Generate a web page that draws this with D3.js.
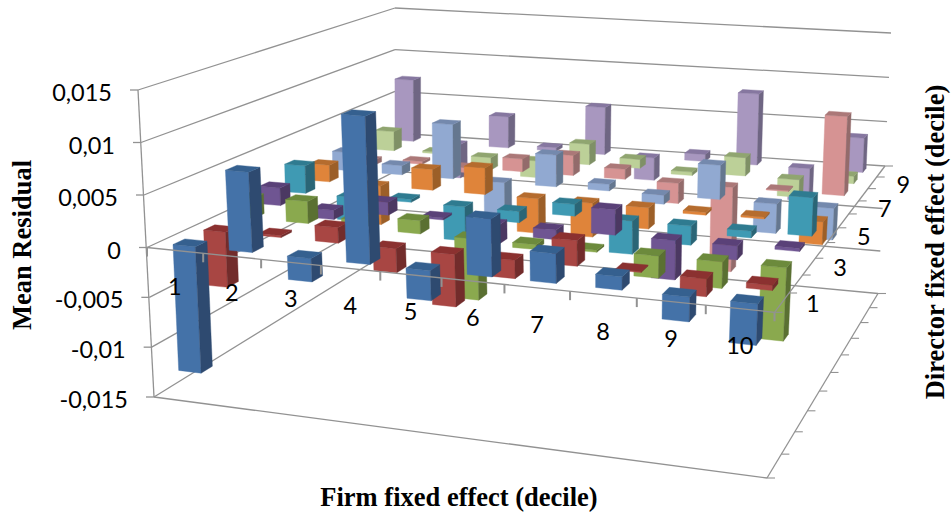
<!DOCTYPE html>
<html><head><meta charset="utf-8">
<script src="https://cdn.jsdelivr.net/npm/d3@7"></script>
<style>html,body{margin:0;padding:0;background:#fff;overflow:hidden}svg{display:block}</style>
</head><body><svg id="c" width="951" height="515" viewBox="0 0 951 515"></svg>
<script>
const firms=[1,2,3,4,5,6,7,8,9,10];
const directors=[1,2,3,4,5,6,7,8,9,10];
const directorLabels=[1,3,5,7,9];
const valueTicks=[0.015,0.01,0.005,0,-0.005,-0.01,-0.015];
const valueLabels=["0,015","0,01","0,005","0","-0,005","-0,01","-0,015"];
const director1=[-0.0127,0.0076,-0.0023,0.0138,-0.0029,0.0053,0.0027,0.0012,-0.0023,-0.0038];
const director2=[-0.0057,0.0002,0.0015,-0.0024,-0.0052,-0.0018,0.0024,0.0001,-0.0017,-0.0005];
const director3=[0.002,0.0022,0.0008,0.0013,-0.0062,-0.0005,-0.0002,-0.0022,-0.0026,-0.0071];
const director4=[0.0018,-0.001,0.0013,0.0002,-0.002,-0.001,0.0025,-0.004,-0.0014,0.0003];
const director5=[0.0029,-0.0026,0.0003,-0.0037,-0.0012,0.0012,-0.0035,-0.002,-0.0007,0.0038];
const director6=[0.0018,-0.0044,0.0022,0.0028,-0.0038,-0.0037,-0.0023,-0.0003,-0.0002,-0.0024];
const director7=[0.002,0.001,0.0059,-0.0035,0.0034,0.0007,-0.001,0.0036,-0.0032,-0.0034];
const director8=[-0.0006,0.0003,-0.0006,0.0014,0.0022,0.0011,-0.0023,-0.0095,0.0001,0.0084];
const director9=[0.0022,0.0002,-0.0015,-0.002,0.0023,0.001,-0.0004,0.002,-0.002,0.0008];
const director10=[0.0072,-0.0042,0.0036,0.0004,0.0054,-0.0027,0.0008,0.008,-0.0038,0.0038];
const seriesValues=[director1,director2,director3,director4,director5,director6,director7,director8,director9,director10];
const frontColors=["#4472a8","#a84643","#8aa94e","#6f5592","#3f9ab3","#df843a","#91a9d1","#d69393","#bcd098","#a897bf"];
const topColors=["#35608f","#8b3130","#6c8a3c","#5a4178","#2f7b90","#b56c2e","#7489ad","#ab7878","#90a570","#8677a0"];
const sideColors=["#2e4a70","#722c2b","#5a7032","#4b3862","#2a6576","#9c5f28","#65778f","#936b6b","#7f9066","#6f6683"];
const gridColor="#929292";

function homography(q){
  const [p0,p1,p2,p3]=q;
  const dx1=p1[0]-p2[0],dx2=p3[0]-p2[0],sx=p0[0]-p1[0]+p2[0]-p3[0];
  const dy1=p1[1]-p2[1],dy2=p3[1]-p2[1],sy=p0[1]-p1[1]+p2[1]-p3[1];
  const det=dx1*dy2-dx2*dy1;
  const g=(sx*dy2-dx2*sy)/det,h=(dx1*sy-sx*dy1)/det;
  const a=p1[0]-p0[0]+g*p1[0],b=p3[0]-p0[0]+h*p3[0],c=p0[0];
  const d=p1[1]-p0[1]+g*p1[1],e=p3[1]-p0[1]+h*p3[1],f=p0[1];
  return (u,w)=>{const D=g*u+h*w+1;return [(a*u+b*w+c)/D,(d*u+e*w+f)/D];};
}
const planeTop=homography([[138,90],[780,140],[891,33],[395,8]]);
const planeZero=homography([[147,247.5],[774.5,312.3],[885,166],[395,133]]);
const planeFloor=homography([[154,397],[767,478],[878,293.5],[395,248]]);
const xScale=d3.scaleLinear().domain([0,3,5,6,7,8,9,10]).range([0,0.31,0.509,0.608,0.708,0.8065,0.905,1]);
const zScale=d3.scaleLinear().domain([0,10]).range([0,1]);
const vScale=d3.scaleLinear().domain([-0.015,0,0.015]).range([-1,0,1]);
function P(x,z,v){
  const u=xScale(x),w=zScale(z),t=vScale(v);
  const a=planeZero(u,w),b=t>=0?planeTop(u,w):planeFloor(u,w),k=Math.abs(t);
  return [a[0]+(b[0]-a[0])*k,a[1]+(b[1]-a[1])*k];
}
const svg=d3.select("#c");
const line=d3.line();
function seg(g,a,b,w){g.append("line").attr("x1",a[0]).attr("y1",a[1]).attr("x2",b[0]).attr("y2",b[1]).attr("stroke",gridColor).attr("stroke-width",w||1.3);}

const walls=svg.append("g");
valueTicks.forEach(v=>{
  seg(walls,P(0,0,v),P(0,10,v));
  seg(walls,P(0,10,v),P(10,10,v));
  const p=P(0,0,v);
  seg(walls,[p[0]-8,p[1]],p);
});
seg(walls,P(0,0,0.015),P(0,0,-0.015));
seg(walls,P(0,0,-0.015),P(10,0,-0.015));
seg(walls,P(10,0,-0.015),P(10,10,-0.015));
d3.range(0,11).forEach(z=>{const p=P(10,z,-0.015);seg(walls,p,[p[0]+8,p[1]],1.1);});

const halfX=0.2,halfZ=0.19,shift=-0.01;
const bars=[];
for(let s=directors.length-1;s>=0;s--){
  firms.forEach((f,i)=>bars.push({s,f,v:seriesValues[s][i]}));
}
const gb=svg.append("g");
bars.forEach(b=>{
  const c=b.f-0.5+shift;
  const x0=c-halfX,x1=c+halfX,z0=b.s+0.5-halfZ,z1=b.s+0.5+halfZ;
  const hi=Math.max(b.v,0),lo=Math.min(b.v,0);
  const faces=[
    {c:frontColors[b.s],p:[P(x0,z0,hi),P(x1,z0,hi),P(x1,z0,lo),P(x0,z0,lo)]},
    {c:sideColors[b.s],p:[P(x1,z0,hi),P(x1,z1,hi),P(x1,z1,lo),P(x1,z0,lo)]},
    {c:topColors[b.s],p:[P(x0,z0,hi),P(x0,z1,hi),P(x1,z1,hi),P(x1,z0,hi)]}
  ];
  gb.selectAll(null).data(faces).enter().append("path")
    .attr("d",d=>line(d.p)+"Z").attr("fill",d=>d.c).attr("stroke",d=>d.c).attr("stroke-width",0.4);
});

const ga=svg.append("g");
seg(ga,P(0,0,0),P(10,0,0));
seg(ga,P(10,0,0),P(10,10,0));
d3.range(0,11).forEach(x=>{const p=P(x,0,0);seg(ga,p,[p[0],p[1]+9],2);});
d3.range(0,11).forEach(z=>{const p=P(10,z,0);seg(ga,p,[p[0]+8,p[1]],1.1);});

const tick="Lato, 'Open Sans', sans-serif";
const labels=svg.append("g").attr("font-family",tick).attr("font-size",23.5).attr("fill","#000");
valueTicks.forEach((v,i)=>{
  const p=P(0,0,v);
  labels.append("text").attr("x",p[0]-26).attr("y",p[1]+11).attr("text-anchor","end").text(valueLabels[i]);
});
firms.forEach(f=>{
  const p=P(f-0.5,0,0);
  labels.append("text").attr("x",p[0]).attr("y",p[1]+45).attr("text-anchor","middle").text(f);
});
directorLabels.forEach(d=>{
  const p=P(10,d-0.5,0);
  labels.append("text").attr("x",p[0]+31).attr("y",p[1]+10).attr("text-anchor","middle").text(d);
});
const serif="'Liberation Serif', serif";
const titles=svg.append("g").attr("font-family",serif).attr("font-weight","bold").attr("font-size",26.5).attr("fill","#000").attr("text-anchor","middle");
titles.append("text").attr("x",459).attr("y",506).text("Firm fixed effect (decile)");
titles.append("text").attr("transform","translate(31,245) rotate(-90)").text("Mean Residual");
titles.append("text").attr("transform","translate(944,242) rotate(-90)").text("Director fixed effect (decile)");
</script></body></html>
